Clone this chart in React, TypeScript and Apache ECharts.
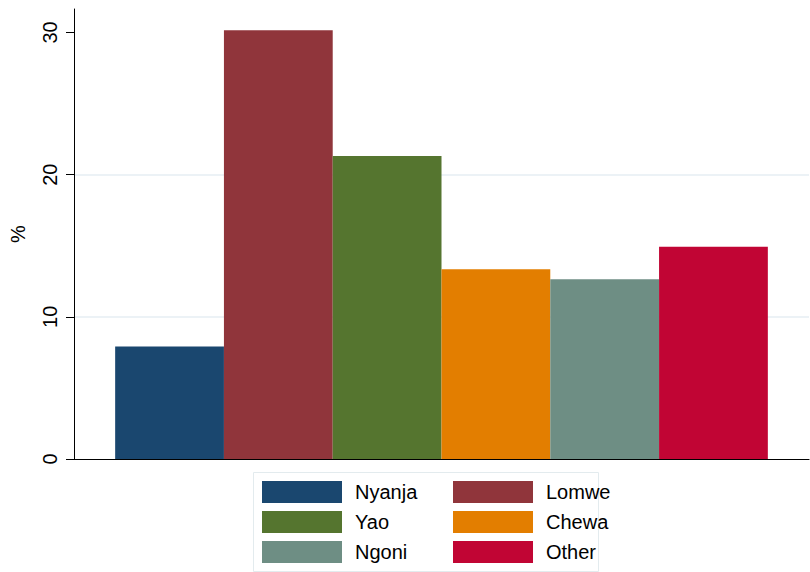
import React, { useEffect, useRef } from "react";
import * as echarts from "echarts";

const categories = ["Nyanja", "Lomwe", "Yao", "Chewa", "Ngoni", "Other"];
const values = [7.92, 30.15, 21.31, 13.34, 12.64, 14.93];
const colors = ["#1a476f", "#90353b", "#55752f", "#e37e00", "#6e8e84", "#c10534"];
const yTicks = [0, 10, 20, 30];
const legendCol1 = ["Nyanja", "Yao", "Ngoni"];
const legendCol2 = ["Lomwe", "Chewa", "Other"];

export default function App() {
  const ref = useRef<HTMLDivElement>(null);
  useEffect(() => {
    if (!ref.current) return;
    const chart = echarts.init(ref.current, null, { renderer: "svg" });
    const font = "'Liberation Sans', Arial, sans-serif";
    const legendBase = {
      orient: "vertical" as const,
      top: 481,
      height: 120,
      padding: 0,
      itemWidth: 80,
      itemHeight: 22,
      itemGap: 8,
      icon: "rect",
      textStyle: { fontFamily: font, fontSize: 20, lineHeight: 22, color: "#000", padding: [0, 0, 0, 8] },
    };
    chart.setOption({
      animation: false,
      backgroundColor: "#fff",
      grid: { left: 70.5, right: 1, top: 9, bottom: 113 },
      xAxis: {
        type: "category",
        data: ["all"],
        axisLine: { lineStyle: { color: "#000", width: 1.2 } },
        axisTick: { show: false },
        axisLabel: { show: false },
        splitLine: { show: false },
      },
      yAxis: {
        type: "value",
        min: 0,
        max: 31.65,
        interval: 10,
        name: "%",
        nameLocation: "middle",
        nameGap: 46,
        nameRotate: 90,
        nameTextStyle: { fontFamily: font, fontSize: 20, color: "#000" },
        axisLine: { show: true, lineStyle: { color: "#000", width: 1 } },
        axisTick: { show: true, length: 8, customValues: yTicks, lineStyle: { color: "#000" } },
        axisLabel: {
          customValues: yTicks,
          rotate: 90,
          margin: 14,
          fontFamily: font,
          fontSize: 20,
          color: "#000",
        },
        splitLine: {
          show: true,
          showMinLine: false,
          showMaxLine: false,
          lineStyle: { color: "#e6eef3", width: 1.5 },
        },
      },
      legend: [
        { ...legendBase, left: 262, data: legendCol1 },
        { ...legendBase, left: 453, data: legendCol2 },
      ],
      graphic: [
        {
          type: "rect",
          shape: { x: 253.5, y: 472.5, width: 345, height: 99 },
          style: { fill: "none", stroke: "#e3ebee", lineWidth: 1 },
          silent: true,
        },
      ],
      series: categories.map((name, i) => ({
        type: "bar",
        name,
        data: [values[i]],
        barGap: "0%",
        barCategoryGap: "11.2%",
        itemStyle: { color: colors[i] },
      })),
    });
    return () => chart.dispose();
  }, []);
  return <div ref={ref} style={{ width: 810, height: 572, position: "absolute", left: 0, top: 0 }} />;
}
